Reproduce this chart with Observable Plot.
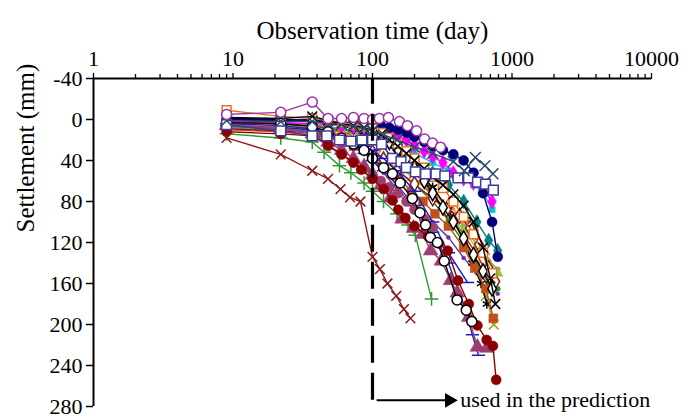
<!DOCTYPE html>
<html><head><meta charset="utf-8">
<script src="https://cdn.jsdelivr.net/npm/d3@7"></script>
<script src="https://cdn.jsdelivr.net/npm/@observablehq/plot@0.6"></script>
<style>body{margin:0;background:#fff}</style>
</head><body><div id="chart"></div>
<script>
// ---- tick labels / text ----
const xTicks = [1, 10, 100, 1000, 10000];
const xMinorTicks = [2,3,4,5,6,7,8,9,20,30,40,50,60,70,80,90,200,300,400,500,600,700,800,900,2000,3000,4000,5000,6000,7000,8000,9000];
const yTicks = [-40, 0, 40, 80, 120, 160, 200, 240, 280];
const titleText = "Observation time (day)";
const yLabelText = "Settlement (mm)";
const annotationText = "used in the prediction";
const predictionStart = [100];            // day where prediction data begins
const arrowFrom = 107, arrowTo = 355, arrowLevel = 274, annotationAt = 425;

// ---- series: [day, settlement mm] ----
const grayLine = [[9,8],[22,10],[37,12],[48,14],[60,17],[73,20],[87,23],[100,27],[120,33],[150,42],[200,55],[270,70],[350,86],[450,104],[560,122],[680,138],[790,146]];
const purpleLine = [[9,1],[22,3],[37,5],[48,10],[60,16],[73,24],[87,32],[100,40],[120,52],[150,68],[200,85],[270,100],[350,115],[450,135],[560,150],[680,160],[790,170]];
const greenLine = [[9,7],[22,9],[37,12],[48,15],[60,19],[73,23],[87,27],[100,31],[120,38],[150,49],[200,63],[270,80],[350,98],[450,120],[560,140],[680,160],[790,165]];
const yellowGreen = [[9,6],[22,8],[37,10],[48,13],[60,16],[73,19],[87,22],[100,26],[120,33],[150,44],[200,58],[270,74],[350,90],[450,108],[560,126],[680,140],[790,150]];
const tealDiamond = [[9,3],[22,5],[37,6],[48,8],[60,10],[73,12],[87,15],[100,18],[120,23],[150,30],[200,40],[270,52],[350,64],[450,80],[560,100],[680,118],[790,128]];
const cyanLine = [[9,3],[22,4],[37,5],[48,7],[60,9],[73,11],[87,13],[100,15],[120,19],[150,25],[200,33],[270,42],[350,50],[450,58],[530,64],[620,71],[720,88]];
const redLine = [[9,2],[22,4],[37,6],[48,9],[60,12],[73,15],[87,18],[100,22],[120,29],[150,40],[200,55],[270,74],[350,92],[450,112],[560,132],[650,148],[740,165]];
const oliveTimes = [[9,4],[22,6],[37,8],[48,10],[60,13],[73,16],[87,19],[100,23],[120,29],[150,38],[200,52],[270,68],[380,95],[530,135],[650,172],[740,200]];
const orangeTriangle = [[9,5],[22,7],[37,9],[48,12],[60,15],[73,18],[87,22],[100,26],[120,32],[150,42],[200,56],[270,72],[350,84],[450,97],[530,110],[620,128],[720,155]];
const blackAsterisk = [[9,0],[22,1],[37,2],[48,4],[60,6],[73,9],[87,12],[100,16],[120,22],[150,32],[200,47],[270,66],[350,88],[450,118],[520,140],[600,160],[660,180]];
const brownSquare = [[9,10],[22,12],[37,15],[48,18],[60,22],[73,26],[87,30],[100,34],[120,42],[150,55],[190,70],[230,80],[280,92],[350,104],[450,125],[540,145],[650,165],[735,194]];
const darkRedDiamond = [[9,9],[22,11],[37,13],[48,16],[60,20],[73,24],[87,28],[100,32],[120,39],[150,50],[200,63],[270,77],[340,88],[420,94],[500,106],[580,122],[680,145],[760,158]];
const blackDiamond = [[9,-1],[22,0],[37,1],[48,3],[60,5],[73,7],[87,9],[100,12],[115,16],[132,22],[152,29],[175,38],[200,48],[235,60],[270,72],[320,86],[380,100],[450,116],[530,132],[620,148],[720,165]];
const blueDash = [[9,6],[22,8],[37,10],[48,14],[60,18],[73,22],[87,26],[100,30],[120,38],[150,50],[200,70],[270,100],[350,130],[480,159]];
const blueDash2 = [[9,4],[22,6],[37,9],[48,14],[60,20],[73,26],[87,33],[100,40],[120,50],[150,64],[200,84],[270,110],[350,140],[450,180],[520,210],[575,230]];
const greenPlus = [[9,14],[22,18],[37,22],[45,32],[58,45],[70,52],[87,62],[100,70],[120,80],[150,92],[180,103],[203,113],[265,175]];
const magentaDiamond = [[9,2],[22,3],[37,4],[48,5],[60,6],[73,7],[87,8],[100,9],[115,11],[132,13],[152,16],[175,20],[200,25],[235,31],[270,36],[320,42],[380,52],[450,58],[530,62],[620,68],[720,80]];
const navyCircle = [[9,0],[22,1],[37,0],[48,2],[60,3],[73,3],[87,4],[100,5],[115,6],[132,8],[152,10],[175,13],[200,17],[235,22],[270,26],[320,30],[380,34],[450,40],[530,52],[620,72],[720,100],[790,134]];
const orangeSquare = [[9,-9],[22,-3],[37,-1],[48,1],[60,3],[73,5],[87,7],[100,9],[115,13],[132,18],[152,24],[175,31],[200,38],[235,47],[270,56],[320,67],[380,80],[450,95],[530,112],[620,130],[720,150]];
const blackTimes = [[9,-2],[22,-1],[37,-3],[48,1],[60,4],[73,6],[87,8],[100,11],[115,15],[132,20],[152,26],[175,33],[200,40],[235,48],[270,56],[320,64],[380,73],[450,84],[530,100],[620,125],[700,155],[760,180]];
const mauveCircle = [[9,6],[22,8],[37,13],[48,26],[60,34],[73,42],[87,48],[100,54],[115,60],[132,66],[152,72],[175,80],[200,88],[235,97],[270,105]];
const mauveTriangle = [[9,6],[22,9],[37,14],[48,22],[60,30],[73,38],[87,46],[100,54],[115,64],[135,76],[163,97],[197,106],[230,112],[261,128],[312,138],[363,157],[405,169],[489,193],[565,222],[660,223]];
const darkRedCircle = [[9,12],[22,14],[37,16],[48,25],[60,34],[73,42],[83,49],[100,58],[120,68],[139,79],[153,88],[172,96],[200,104],[250,114],[300,121],[346,128],[410,157],[490,180],[565,201],[658,215],[730,221],[770,254]];
const blackCircle = [[9,3],[22,4],[37,7],[48,12],[60,18],[73,24],[87,30],[100,38],[120,47],[139,53],[158,62],[193,77],[219,91],[240,103],[260,115],[292,120],[327,138],[404,176],[470,186],[515,197]];
const darkRedTimes = [[9,18],[22,34],[37,50],[48,58],[59,68],[69,76],[82,80],[100,134],[113,146],[128,160],[148,172],[168,185],[187,194]];
const blueSquare = [[9,5],[22,11],[37,16],[47,16],[58,20],[70,21],[84,20],[100,20],[116,24],[139,38],[160,41],[175,47],[203,51],[240,53],[285,53],[330,55],[410,57],[488,57],[566,61],[646,63],[735,69]];
const steelTimes = [[9,1],[22,2],[37,2],[48,4],[60,5],[73,7],[87,9],[100,11],[120,15],[150,20],[200,27],[270,33],[380,41],[455,50],[546,37],[640,45],[730,53]];
const purpleCircle = [[9,-5],[22,-7],[37,-17],[48,-1],[60,-1],[73,-2],[87,-1],[100,0],[112,-1],[130,-2],[156,2],[178,6],[207,11],[236,19],[269,23],[307,27]];

// ---- styles (kept apart from data) ----
const dashSymbol = {draw(ctx, size) { const r = Math.sqrt(size) * 0.75; ctx.moveTo(-r, 0); ctx.lineTo(r, 0); }};
const series = [
  [grayLine, "#8c8c8c", "circle", "filled", 2.5],
  [purpleLine, "#7030a0", "circle", "filled", 2],
  [greenLine, "#109010", "circle", "filled", 2.5],
  [yellowGreen, "#92c83e", "triangle", "filled", 4],
  [tealDiamond, "#0a7f7f", "diamond", "filled", 4.5],
  [cyanLine, "#00c8d2", "square", "filled", 3.5],
  [redLine, "#ff0000", "circle", "filled", 2],
  [oliveTimes, "#a0a028", "times", "stroke", 4.5],
  [orangeTriangle, "#ff7f27", "triangle", "open", 4.5],
  [blackAsterisk, "#000000", "asterisk", "stroke", 4.5],
  [brownSquare, "#c0501a", "square", "filled", 5],
  [darkRedDiamond, "#8b1a1a", "diamond", "open", 4.5],
  [blackDiamond, "#000000", "diamond", "open", 4.5],
  [blueDash, "#1515d0", dashSymbol, "stroke", 5],
  [blueDash2, "#2020c0", dashSymbol, "stroke", 5],
  [greenPlus, "#2e9b2e", "plus", "stroke", 4.5],
  [magentaDiamond, "#ff00ff", "diamond", "filled", 4.5],
  [navyCircle, "#00007a", "circle", "filled", 5],
  [orangeSquare, "#e8731a", "square", "open", 5],
  [blackTimes, "#000000", "times", "stroke", 4.5],
  [mauveCircle, "#a0406e", "circle", "filled", 5],
  [mauveTriangle, "#9e3d72", "triangle", "filled", 5.5],
  [darkRedCircle, "#8b0000", "circle", "filled", 5],
  [blackCircle, "#000000", "circle", "open", 5],
  [darkRedTimes, "#8b1a1a", "times", "stroke", 4.5],
  [blueSquare, "#3a3aa0", "square", "open", 5.5],
  [steelTimes, "#2f4a70", "times", "stroke", 5],
  [purpleCircle, "#9b30a8", "circle", "open", 5]
];

const seriesMarks = series.flatMap(([data, color, symbol, kind, r]) => [
  Plot.line(data, {x: d => d[0], y: d => d[1], stroke: color, strokeWidth: 1.4}),
  Plot.dot(data, {
    x: d => d[0], y: d => d[1], symbol, r,
    fill: kind === "filled" ? color : kind === "open" ? "white" : "none",
    stroke: color, strokeWidth: kind === "filled" ? 0.5 : 1.5
  })
]);

const chart = Plot.plot({
  width: 690, height: 419,
  marginLeft: 93, marginRight: 39, marginTop: 78, marginBottom: 13,
  style: {fontFamily: "Liberation Serif", background: "white", color: "black"},
  x: {type: "log", domain: [1, 10000]},
  y: {domain: [-40, 280], reverse: true},
  marks: [
    Plot.axisX(xMinorTicks, {anchor: "top", tickSize: 5, tickFormat: () => "", label: null, strokeWidth: 1.3}),
    Plot.axisX(xTicks, {anchor: "top", tickSize: 6, tickPadding: 7, fontSize: 22, tickFormat: d => String(d), label: null, strokeWidth: 1.3}),
    Plot.axisY(yTicks, {anchor: "left", tickSize: 7, tickPadding: 4, fontSize: 22, tickFormat: d => String(d), label: null, strokeWidth: 1.5}),
    Plot.ruleY([-40], {strokeWidth: 2}),
    Plot.ruleX([1], {strokeWidth: 2}),
    ...seriesMarks,
    Plot.ruleX(predictionStart, {y1: arrowLevel, y2: -40, stroke: "black", strokeWidth: 3.2, strokeDasharray: "27,10"}),
    Plot.link([{a: arrowFrom, b: arrowTo, s: arrowLevel}], {x1: "a", x2: "b", y1: "s", y2: "s", stroke: "black", strokeWidth: 2}),
    Plot.dot([{a: arrowTo, s: arrowLevel}], {x: "a", y: "s", symbol: "triangle", rotate: 90, r: 4.5, fill: "black", stroke: "black"}),
    Plot.text([annotationText], {x: () => annotationAt, y: () => arrowLevel, text: d => d, textAnchor: "start", fontSize: 22, fill: "black"}),
    Plot.text([titleText], {frameAnchor: "top", dy: -57, fontSize: 25, fill: "black"}),
    Plot.text([yLabelText], {frameAnchor: "left", dx: -68, dy: -10, rotate: -90, fontSize: 25, fill: "black"})
  ]
});
document.getElementById("chart").appendChild(chart);
</script>
</body></html>
